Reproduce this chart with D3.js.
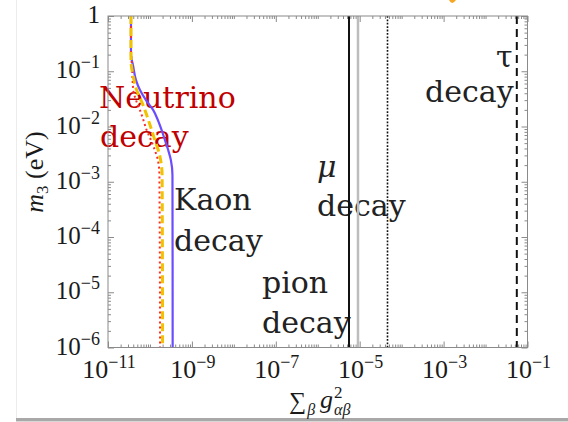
<!DOCTYPE html>
<html><head><meta charset="utf-8">
<script src="https://cdn.jsdelivr.net/npm/d3@7"></script>
<style>body{margin:0;background:#fff} svg{display:block}</style>
</head><body>
<svg id="chart" width="568" height="422"></svg>
<script>
// Lightest-neutrino mass m3 (eV) and the coupling bound sum_beta g^2 along each curve
const kaonM = [1, 0.196, 0.129, 0.0692, 0.0456, 0.030, 0.0198, 0.0130, 0.0086, 0.00565, 0.00372, 0.00245, 0.00131, 1e-6];
const kaonG = [3.53e-11, 3.53e-11, 3.94e-11, 4.65e-11, 5.78e-11, 8.04e-11, 1.20e-10, 1.55e-10, 1.90e-10, 2.28e-10, 2.73e-10, 3.16e-10, 3.44e-10, 3.48e-10];

const nuDottedM = [1, 0.242, 0.129, 0.0456, 0.030, 0.0198, 0.0130, 0.0086, 0.00565, 0.00372, 0.00245, 0.00131, 1e-6];
const nuDottedG = [3.53e-11, 3.53e-11, 3.72e-11, 4.00e-11, 4.65e-11, 5.78e-11, 7.00e-11, 8.34e-11, 1.06e-10, 1.31e-10, 1.55e-10, 1.68e-10, 1.74e-10];

const nuDashedM = [1, 0.159, 0.0853, 0.0456, 0.030, 0.0198, 0.0130, 0.0086, 0.00565, 0.00372, 0.00245, 0.00131, 1e-6];
const nuDashedG = [3.53e-11, 3.53e-11, 3.94e-11, 4.82e-11, 6.11e-11, 7.60e-11, 9.20e-11, 1.10e-10, 1.31e-10, 1.58e-10, 1.80e-10, 1.95e-10, 2.00e-10];

// Mass-independent bounds (vertical lines)
const muonG = 5.56e-6;
const muonAltG = 9.1e-6;
const pionG = 4.6e-5;
const tauG = 0.0556;

// Tick labels (exponents of ten)
const xLabelExp = [-11, -9, -7, -5, -3, -1];
const yLabelExp = [-6, -5, -4, -3, -2, -1, 0];

const svg = d3.select("#chart");
const L = 108, R = 527.5, T = 16, B = 347.5;
const x = d3.scaleLog().domain([1e-11, 1e-1]).range([L, R]);
const y = d3.scaleLog().domain([1e-6, 1]).range([B, T]);

// page frame bits
svg.append("line").attr("x1", 16.5).attr("x2", 16.5).attr("y1", 0).attr("y2", 418)
  .attr("stroke", "#ececec").attr("stroke-width", 1);
svg.append("rect").attr("x", 16).attr("y", 418).attr("width", 552).attr("height", 3).attr("fill", "#a8a8a8");
svg.append("rect").attr("x", 16).attr("y", 421).attr("width", 552).attr("height", 1).attr("fill", "#d8d8d8");
svg.append("path").attr("d", "M449,0 Q452,6 456,0 Z").attr("fill", "#f5a623");

const serif = "'Liberation Serif', 'Times New Roman', serif";
const labelFont = "'DejaVu Serif', serif";

// minor/major tick values
function decadeTicks(e0, e1) {
  const v = [];
  for (let e = e0; e < e1; e++) for (let k = 1; k <= 9; k++) v.push(k * Math.pow(10, e));
  v.push(Math.pow(10, e1));
  return v;
}
const xMajorVals = xLabelExp.map(e => Math.pow(10, e));
const xMinorVals = decadeTicks(-11, -1).filter(v => !xMajorVals.some(m => Math.abs(v / m - 1) < 1e-9));
const yMajorVals = yLabelExp.map(e => Math.pow(10, e));
const yMinorVals = decadeTicks(-6, 0).filter(v => !yMajorVals.some(m => Math.abs(v / m - 1) < 1e-9));

function styleAxis(g) {
  g.select(".domain").remove();
  g.selectAll(".tick line").attr("stroke", "#8a8a8a").attr("stroke-width", 1);
  g.selectAll(".tick text").remove();
}
const axes = svg.append("g");
axes.append("g").attr("transform", `translate(0,${B})`).call(d3.axisBottom(x).tickValues(xMinorVals).tickSize(-3)).call(styleAxis);
axes.append("g").attr("transform", `translate(0,${B})`).call(d3.axisBottom(x).tickValues(xMajorVals).tickSize(-6)).call(styleAxis);
axes.append("g").attr("transform", `translate(0,${T})`).call(d3.axisTop(x).tickValues(xMinorVals).tickSize(-3)).call(styleAxis);
axes.append("g").attr("transform", `translate(0,${T})`).call(d3.axisTop(x).tickValues(xMajorVals).tickSize(-6)).call(styleAxis);
axes.append("g").attr("transform", `translate(${L},0)`).call(d3.axisLeft(y).tickValues(yMinorVals).tickSize(-3)).call(styleAxis);
axes.append("g").attr("transform", `translate(${L},0)`).call(d3.axisLeft(y).tickValues(yMajorVals).tickSize(-6)).call(styleAxis);
axes.append("g").attr("transform", `translate(${R},0)`).call(d3.axisRight(y).tickValues(yMinorVals).tickSize(-3)).call(styleAxis);
axes.append("g").attr("transform", `translate(${R},0)`).call(d3.axisRight(y).tickValues(yMajorVals).tickSize(-6)).call(styleAxis);

// tick labels as 10^n
xLabelExp.forEach(e => {
  const t = svg.append("text").attr("x", x(Math.pow(10, e)) + 1).attr("y", B + 30)
    .attr("text-anchor", "middle").attr("font-family", serif).attr("font-size", 26).attr("fill", "#1a1a1a");
  t.append("tspan").text("10");
  t.append("tspan").attr("dy", -10).attr("font-size", 18).text("\u2212" + Math.abs(e));
});
yLabelExp.forEach(e => {
  const t = svg.append("text").attr("x", 100).attr("y", y(Math.pow(10, e)) + 7)
    .attr("text-anchor", "end").attr("font-family", serif).attr("font-size", 25).attr("fill", "#1a1a1a");
  if (e === 0) { t.text("1"); return; }
  t.append("tspan").text("10");
  t.append("tspan").attr("dy", -10).attr("font-size", 18).text("\u2212" + Math.abs(e));
});

// axis titles
const yt = svg.append("text").attr("transform", "translate(43,172) rotate(-90)")
  .attr("text-anchor", "middle").attr("font-family", serif).attr("font-size", 26).attr("fill", "#1a1a1a");
yt.append("tspan").attr("font-style", "italic").text("m");
yt.append("tspan").attr("dy", 5).attr("font-size", 17).text("3");
yt.append("tspan").attr("dy", -5).text(" (eV)");

const xt = svg.append("g").attr("font-family", serif).attr("fill", "#1a1a1a");
const sig = xt.append("text").attr("x", 0).attr("y", 409).attr("font-size", 24).text("\u2211");
let cx = sig.node().getComputedTextLength();
const sb = xt.append("text").attr("x", cx + 1).attr("y", 415).attr("font-size", 16).attr("font-style", "italic").text("\u03b2");
cx += 1 + sb.node().getComputedTextLength() + 5;
const gg = xt.append("text").attr("x", cx).attr("y", 408).attr("font-size", 26).attr("font-style", "italic").text("g");
cx += gg.node().getComputedTextLength() + 1;
const s2 = xt.append("text").attr("x", cx).attr("y", 398).attr("font-size", 17).text("2");
const ab = xt.append("text").attr("x", cx).attr("y", 415).attr("font-size", 16).attr("font-style", "italic").text("\u03b1\u03b2");
cx += Math.max(s2.node().getComputedTextLength(), ab.node().getComputedTextLength());
xt.attr("transform", `translate(${(L + R) / 2 - cx / 2 + 2},0)`);

// channel labels
const labels = svg.append("g").attr("font-family", labelFont).attr("font-size", 30);
function label(txt, lx, ly, color, italic) {
  labels.append("text").attr("x", lx).attr("y", ly).attr("fill", color)
    .attr("font-style", italic ? "italic" : null).text(txt);
}
label("Neutrino", 99, 108, "#c00000");
label("decay", 100, 147, "#c00000");
label("Kaon", 174, 210, "#222");
label("decay", 174, 251, "#222");
label("pion", 262, 293, "#222");
label("decay", 262, 333, "#222");
label("\u03bc", 317, 177, "#222", true);
label("decay", 317, 216, "#222");
label("\u03c4", 496, 67, "#222");
label("decay", 425, 102, "#222");

// vertical bounds
function vline(g, stroke, width, dash) {
  svg.append("line").attr("x1", x(g)).attr("x2", x(g)).attr("y1", y(1)).attr("y2", y(1e-6))
    .attr("stroke", stroke).attr("stroke-width", width).attr("stroke-dasharray", dash || null);
}
vline(muonAltG, "#bdbdbd", 2.5);
vline(muonG, "#111", 2);
vline(pionG, "#111", 1.6, "1.8,1.6");
vline(tauG, "#111", 2, "8,5");

// m3-dependent curves
const line = d3.line().x(d => x(d[0])).y(d => y(d[1])).curve(d3.curveMonotoneY);
const zipped = (g, m) => g.map((v, i) => [v, m[i]]);
svg.append("path").attr("d", line(zipped(kaonG, kaonM))).attr("fill", "none")
  .attr("stroke", "#6b4dff").attr("stroke-width", 2.2);
svg.append("path").attr("d", line(zipped(nuDottedG, nuDottedM))).attr("fill", "none")
  .attr("stroke", "#ff2a2a").attr("stroke-width", 2).attr("stroke-dasharray", "2,3");
svg.append("path").attr("d", line(zipped(nuDashedG, nuDashedM))).attr("fill", "none")
  .attr("stroke", "#f2c200").attr("stroke-width", 3).attr("stroke-dasharray", "8,4");

// plot frame
svg.append("rect").attr("x", L).attr("y", T).attr("width", R - L).attr("height", B - T)
  .attr("fill", "none").attr("stroke", "#8a8a8a").attr("stroke-width", 1);
</script>
</body></html>
